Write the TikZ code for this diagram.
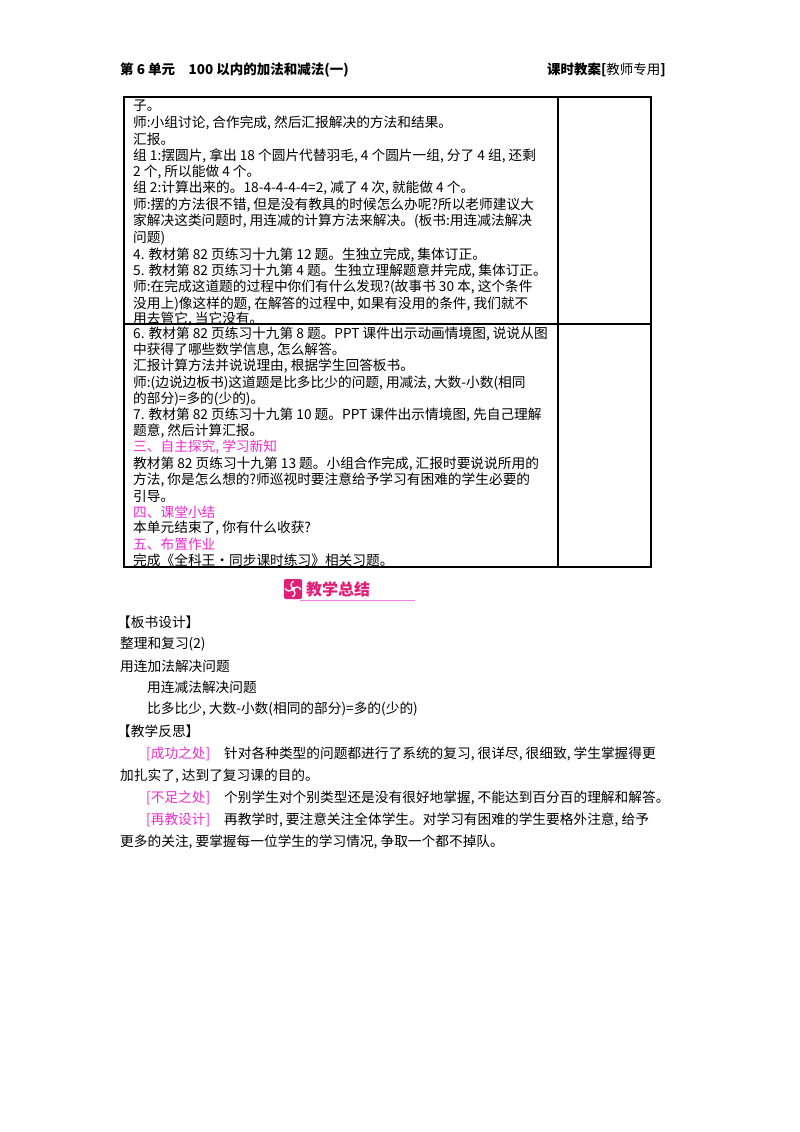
\documentclass[tikz,border=0pt]{standalone}
\usepackage{fontspec}
\setmainfont{Liberation Serif}
\newfontfamily\cjk{Noto Sans CJK SC}
\definecolor{pinkc}{RGB}{235,45,205}
\definecolor{iconc}{RGB}{225,30,120}
\tikzset{tx/.style={anchor=west,inner sep=0pt,font=\cjk\fontsize{13.7}{14}\selectfont},
 hd/.style={anchor=west,inner sep=0pt,font=\cjk\bfseries\fontsize{13.5}{14}\selectfont},
 frame/.style={line width=1.2pt}}
\newcommand{\tl}[3]{\node[tx] at (#1,#2) {#3};}
\newcommand{\pl}[3]{\node[tx,text=pinkc] at (#1,#2) {#3};}
\begin{document}
\begin{tikzpicture}[x=1pt,y=-1pt]
\useasboundingbox (0,0) rectangle (800,1132);
\fill[white] (0,0) rectangle (800,1132);
\node[hd] (h1) at (120,70) {第 6 单元\quad 100 以内的加法和减法(一)};
\node[hd,anchor=east] (h2) at (666,70) {课时教案[{\mdseries 教师专用}]};
% table
\draw[frame] (124,97) rectangle (651,567);
\draw[frame] (558,97) -- (558,567);
\draw[frame] (124,324) -- (651,324);
\def\X{133}
\tl{\X}{106}{子。}
\tl{\X}{122.5}{师:小组讨论, 合作完成, 然后汇报解决的方法和结果。}
\tl{\X}{139}{汇报。}
\tl{\X}{155.5}{组 1:摆圆片, 拿出 18 个圆片代替羽毛, 4 个圆片一组, 分了 4 组, 还剩}
\tl{\X}{172}{2 个, 所以能做 4 个。}
\tl{\X}{188.5}{组 2:计算出来的。18-4-4-4-4=2, 减了 4 次, 就能做 4 个。}
\tl{\X}{205}{师:摆的方法很不错, 但是没有教具的时候怎么办呢?所以老师建议大}
\tl{\X}{221.5}{家解决这类问题时, 用连减的计算方法来解决。(板书:用连减法解决}
\tl{\X}{238}{问题)}
\tl{\X}{254.5}{4. 教材第 82 页练习十九第 12 题。生独立完成, 集体订正。}
\tl{\X}{271}{5. 教材第 82 页练习十九第 4 题。生独立理解题意并完成, 集体订正。}
\tl{\X}{287.5}{师:在完成这道题的过程中你们有什么发现?(故事书 30 本, 这个条件}
\tl{\X}{304}{没用上)像这样的题, 在解答的过程中, 如果有没用的条件, 我们就不}
\tl{\X}{318.5}{用去管它, 当它没有。}
\tl{\X}{334}{6. 教材第 82 页练习十九第 8 题。PPT 课件出示动画情境图, 说说从图}
\tl{\X}{350.2}{中获得了哪些数学信息, 怎么解答。}
\tl{\X}{366.4}{汇报计算方法并说说理由, 根据学生回答板书。}
\tl{\X}{382.6}{师:(边说边板书)这道题是比多比少的问题, 用减法, 大数-小数(相同}
\tl{\X}{398.8}{的部分)=多的(少的)。}
\tl{\X}{415}{7. 教材第 82 页练习十九第 10 题。PPT 课件出示情境图, 先自己理解}
\tl{\X}{431.2}{题意, 然后计算汇报。}
\pl{\X}{447.4}{三、自主探究, 学习新知}
\tl{\X}{463.6}{教材第 82 页练习十九第 13 题。小组合作完成, 汇报时要说说所用的}
\tl{\X}{479.8}{方法, 你是怎么想的?师巡视时要注意给予学习有困难的学生必要的}
\tl{\X}{496}{引导。}
\pl{\X}{512.2}{四、课堂小结}
\tl{\X}{528.4}{本单元结束了, 你有什么收获?}
\pl{\X}{544.6}{五、布置作业}
\tl{\X}{560}{完成《全科王·同步课时练习》相关习题。}
% section title
\fill[iconc,rounded corners=2pt] (284,579) rectangle (302,599);
\foreach \a in {0,90,180,270}{\draw[white,line width=1.3pt,rotate around={\a:(293,589)}] (293,589) ++(0,-2) arc (0:160:4);}
\node[hd,text=iconc,font=\cjk\bfseries\fontsize{16}{17}\selectfont] (t) at (306,589) {教学总结};
\draw[pinkc!60,line width=0.8pt] (300,600.5) -- (415,600.5);
% summary
\tl{117}{622}{【板书设计】}
\tl{120}{644}{整理和复习(2)}
\tl{120}{666}{用连加法解决问题}
\tl{147}{687.5}{用连减法解决问题}
\tl{147}{709.5}{比多比少, 大数-小数(相同的部分)=多的(少的)}
\tl{117}{731}{【教学反思】}
\pl{146}{753.5}{[成功之处]}\tl{224}{753.5}{针对各种类型的问题都进行了系统的复习, 很详尽, 很细致, 学生掌握得更}
\tl{120}{775.5}{加扎实了, 达到了复习课的目的。}
\pl{146}{797.5}{[不足之处]}\tl{224}{797.5}{个别学生对个别类型还是没有很好地掌握, 不能达到百分百的理解和解答。}
\pl{146}{819.5}{[再教设计]}\tl{224}{819.5}{再教学时, 要注意关注全体学生。对学习有困难的学生要格外注意, 给予}
\tl{120}{841.5}{更多的关注, 要掌握每一位学生的学习情况, 争取一个都不掉队。}
\end{tikzpicture}
\end{document}
